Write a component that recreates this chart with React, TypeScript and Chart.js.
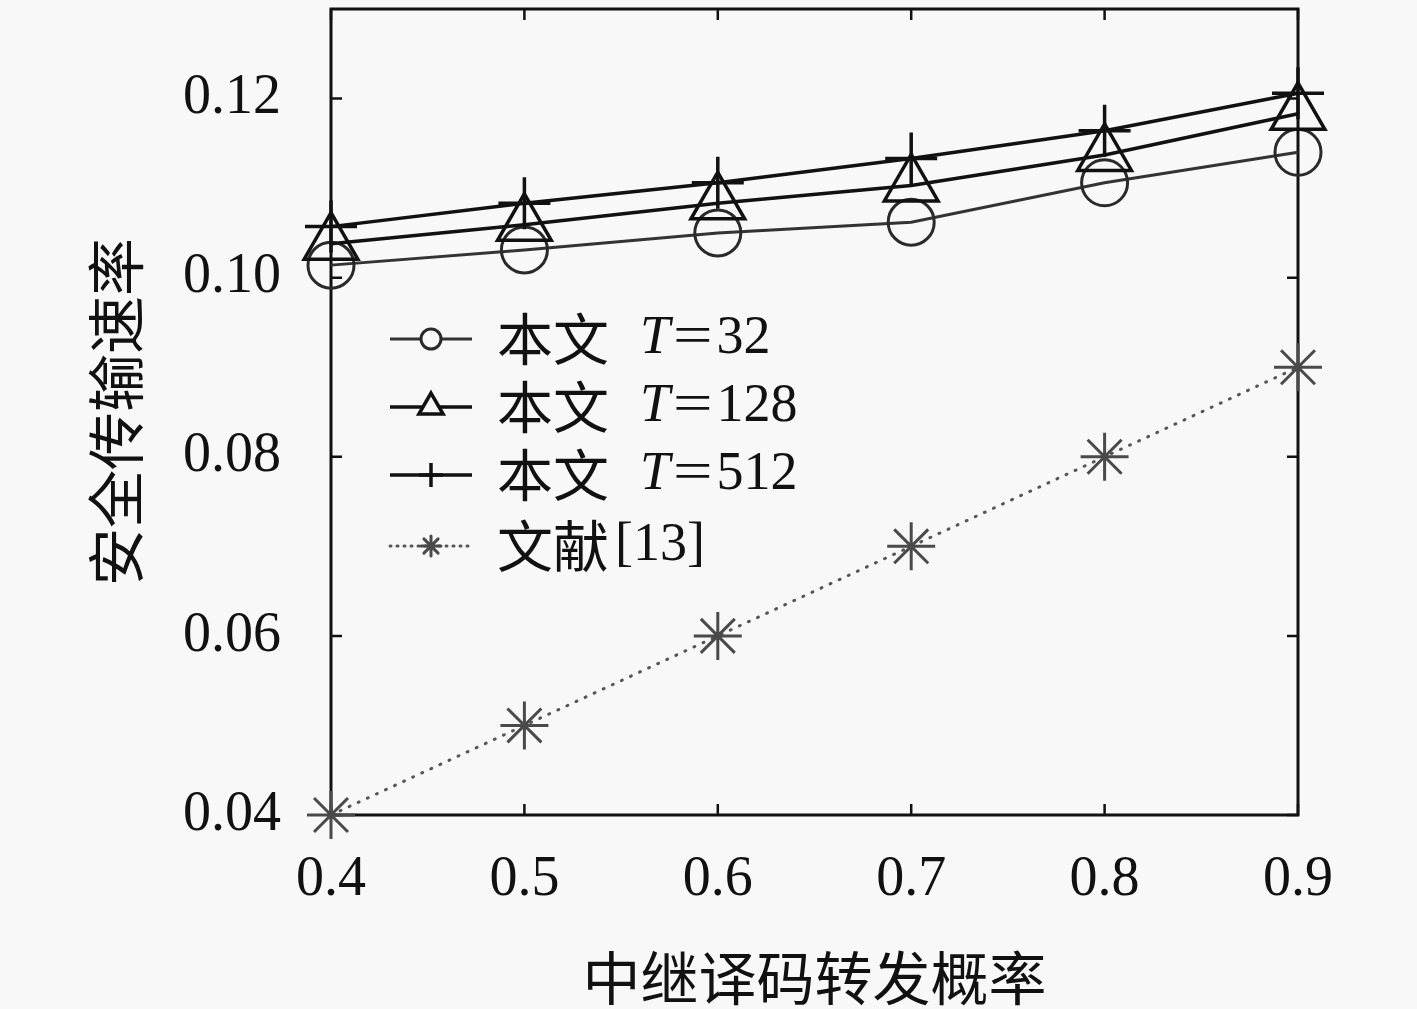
import { useEffect, useRef } from "react";
import { Chart, registerables } from "chart.js";
import { drawPoint } from "chart.js/helpers";

Chart.register(...registerables);

// x: relay decode-and-forward probability
const xValues = [0.4, 0.5, 0.6, 0.7, 0.8, 0.9];
const xTicks = [0.4, 0.5, 0.6, 0.7, 0.8, 0.9];
const yTicks = [0.04, 0.06, 0.08, 0.1, 0.12];

const seriesT32 = [0.1014, 0.1031, 0.105, 0.1062, 0.1106, 0.114];
const seriesT128 = [0.1038, 0.1059, 0.1083, 0.1103, 0.1137, 0.1183];
const seriesT512 = [0.1057, 0.1083, 0.1106, 0.1133, 0.1164, 0.1206];
const seriesRef13 = [0.04, 0.05, 0.06, 0.07, 0.08, 0.09];

const legendLabels = [
  { cjk: "本文", tex: "32" },
  { cjk: "本文", tex: "128" },
  { cjk: "本文", tex: "512" },
  { cjk: "文献", tex: "[13]" },
];

const SERIF = "'Liberation Serif', 'DejaVu Serif', serif";
const CJK = "'Noto Sans CJK SC', sans-serif";

// frame + inward ticks on all four sides
const framePlugin = {
  id: "frame",
  beforeDatasetsDraw(chart: any) {
    const { ctx, chartArea: a, scales } = chart;
    const len = 11;
    ctx.save();
    ctx.strokeStyle = "#111";
    ctx.lineWidth = 3;
    ctx.strokeRect(a.left, a.top, a.right - a.left, a.bottom - a.top);
    ctx.lineWidth = 2.5;
    ctx.beginPath();
    xTicks.forEach((v) => {
      const px = scales.x.getPixelForValue(v);
      ctx.moveTo(px, a.bottom);
      ctx.lineTo(px, a.bottom - len);
      ctx.moveTo(px, a.top);
      ctx.lineTo(px, a.top + len);
    });
    yTicks.forEach((v) => {
      const py = scales.y.getPixelForValue(v);
      ctx.moveTo(a.left, py);
      ctx.lineTo(a.left + len, py);
      ctx.moveTo(a.right, py);
      ctx.lineTo(a.right - len, py);
    });
    ctx.stroke();
    ctx.restore();
  },
};

// legend with line sample + marker, drawn inside the plot
const legendPlugin = {
  id: "customLegend",
  afterDatasetsDraw(chart: any) {
    const { ctx, chartArea: a } = chart;
    const x0 = a.left + 59;
    const x1 = a.left + 141;
    const xm = (x0 + x1) / 2;
    const textX = a.left + 166;
    const rowY = [a.top + 330, a.top + 398, a.top + 466, a.top + 537];
    const markers = [
      { radius: 10, lw: 3 },
      { radius: 14, lw: 3.5 },
      { radius: 12, lw: 3.5 },
      { radius: 10, lw: 3 },
    ];
    ctx.save();
    chart.data.datasets.forEach((ds: any, i: number) => {
      const y = rowY[i];
      ctx.strokeStyle = ds.borderColor;
      ctx.lineWidth = markers[i].lw;
      ctx.lineCap = i === 3 ? "round" : "butt";
      ctx.setLineDash(i === 3 ? [1, 6] : []);
      ctx.beginPath();
      ctx.moveTo(x0, y);
      ctx.lineTo(x1, y);
      ctx.stroke();
      ctx.setLineDash([]);
      ctx.fillStyle = "#f8f8f8";
      ctx.strokeStyle = ds.pointBorderColor;
      ctx.lineWidth = markers[i].lw;
      drawPoint(
        ctx,
        {
          pointStyle: ds.pointStyle,
          radius: markers[i].radius,
          rotation: 0,
          borderWidth: markers[i].lw,
        },
        xm,
        y
      );

      const lab = legendLabels[i];
      ctx.fillStyle = "#111";
      ctx.textBaseline = "middle";
      ctx.textAlign = "left";
      ctx.font = `56px ${CJK}`;
      ctx.fillText(lab.cjk, textX, y);
      if (i < 3) {
        let tx = textX + 143;
        ctx.font = `italic 54px ${SERIF}`;
        ctx.fillText("T", tx, y);
        tx += ctx.measureText("T").width + 3;
        ctx.font = `54px ${SERIF}`;
        ctx.save();
        ctx.scale(1.3, 1);
        ctx.fillText("=", tx / 1.3, y);
        ctx.restore();
        tx += ctx.measureText("=").width * 1.3 + 4;
        ctx.fillText(lab.tex, tx, y);
      } else {
        ctx.font = `54px ${SERIF}`;
        ctx.fillText(lab.tex, textX + 118, y);
      }
    });
    ctx.restore();
  },
};

const bgPlugin = {
  id: "bg",
  beforeDraw(chart: any) {
    const { ctx, width, height } = chart;
    ctx.save();
    ctx.fillStyle = "#f8f8f8";
    ctx.fillRect(0, 0, width, height);
    ctx.restore();
  },
};

function toPoints(ys: number[]) {
  return xValues.map((x, i) => ({ x, y: ys[i] }));
}

export default function App() {
  const canvasRef = useRef<HTMLCanvasElement>(null);
  const chartRef = useRef<Chart | null>(null);

  useEffect(() => {
    document.body.style.margin = "0";
    if (!canvasRef.current) return;
    if (chartRef.current) chartRef.current.destroy();
    const ctx = canvasRef.current.getContext("2d");
    if (!ctx) return;

    chartRef.current = new Chart(ctx, {
      type: "line",
      data: {
        datasets: [
          {
            label: "本文 T=32",
            data: toPoints(seriesT32),
            borderColor: "#333",
            borderWidth: 3,
            pointStyle: "circle",
            pointRadius: 23,
            pointBorderWidth: 3,
            pointBorderColor: "#2a2a2a",
            pointBackgroundColor: "rgba(0,0,0,0)",
            clip: false,
            order: 3,
          },
          {
            label: "本文 T=128",
            data: toPoints(seriesT128),
            borderColor: "#111",
            borderWidth: 3.5,
            pointStyle: "triangle",
            pointRadius: 31,
            pointBorderWidth: 3.5,
            pointBorderColor: "#111",
            pointBackgroundColor: "rgba(0,0,0,0)",
            clip: false,
            order: 2,
          },
          {
            label: "本文 T=512",
            data: toPoints(seriesT512),
            borderColor: "#111",
            borderWidth: 3.5,
            pointStyle: "cross",
            pointRadius: 26,
            pointBorderWidth: 3.5,
            pointBorderColor: "#111",
            pointBackgroundColor: "rgba(0,0,0,0)",
            clip: false,
            order: 1,
          },
          {
            label: "文献[13]",
            data: toPoints(seriesRef13),
            borderColor: "#555",
            borderWidth: 3,
            borderDash: [1, 9],
            borderCapStyle: "round",
            pointStyle: "star",
            pointRadius: 24,
            pointBorderWidth: 3,
            pointBorderColor: "#4a4a4a",
            pointBackgroundColor: "rgba(0,0,0,0)",
            clip: false,
            order: 0,
          },
        ] as any,
      },
      options: {
        responsive: true,
        maintainAspectRatio: false,
        animation: false,
        layout: { autoPadding: false, padding: { top: 9, right: 119, left: 0, bottom: 0 } },
        plugins: {
          legend: { display: false },
          tooltip: { enabled: false },
        },
        scales: {
          x: {
            type: "linear",
            min: 0.4,
            max: 0.9,
            afterBuildTicks: (s: any) => {
              s.ticks = xTicks.map((v) => ({ value: v }));
            },
            afterFit: (s: any) => {
              s.height = 194;
              s.paddingLeft = 0;
              s.paddingRight = 0;
            },
            grid: { display: false, drawTicks: false },
            border: { display: false },
            ticks: {
              padding: 32,
              color: "#111",
              font: { family: SERIF, size: 56, lineHeight: 1.2 },
              maxRotation: 0,
              callback: (v: any) => Number(v).toFixed(1),
            },
            title: {
              display: true,
              text: "中继译码转发概率",
              color: "#111",
              font: { family: CJK, size: 58, lineHeight: 1 },
              padding: { top: 0, bottom: 2 },
            },
          },
          y: {
            type: "linear",
            min: 0.04,
            max: 0.13,
            afterBuildTicks: (s: any) => {
              s.ticks = yTicks.map((v) => ({ value: v }));
            },
            afterFit: (s: any) => {
              s.width = 331;
              s.paddingTop = 0;
              s.paddingBottom = 0;
            },
            grid: { display: false, drawTicks: false },
            border: { display: false },
            ticks: {
              padding: 50,
              color: "#111",
              font: { family: SERIF, size: 56, lineHeight: 1.2 },
              callback: (v: any) => Number(v).toFixed(2),
            },
            title: {
              display: true,
              text: "安全传输速率",
              color: "#111",
              font: { family: CJK, size: 58, lineHeight: 1 },
              padding: { top: 87, bottom: 0 },
            },
          },
        },
      },
      plugins: [bgPlugin, framePlugin, legendPlugin],
    });

    return () => {
      if (chartRef.current) {
        chartRef.current.destroy();
        chartRef.current = null;
      }
    };
  }, []);

  return (
    <div style={{ width: 1417, height: 1009, position: "relative", background: "#f8f8f8" }}>
      <canvas ref={canvasRef} />
    </div>
  );
}
